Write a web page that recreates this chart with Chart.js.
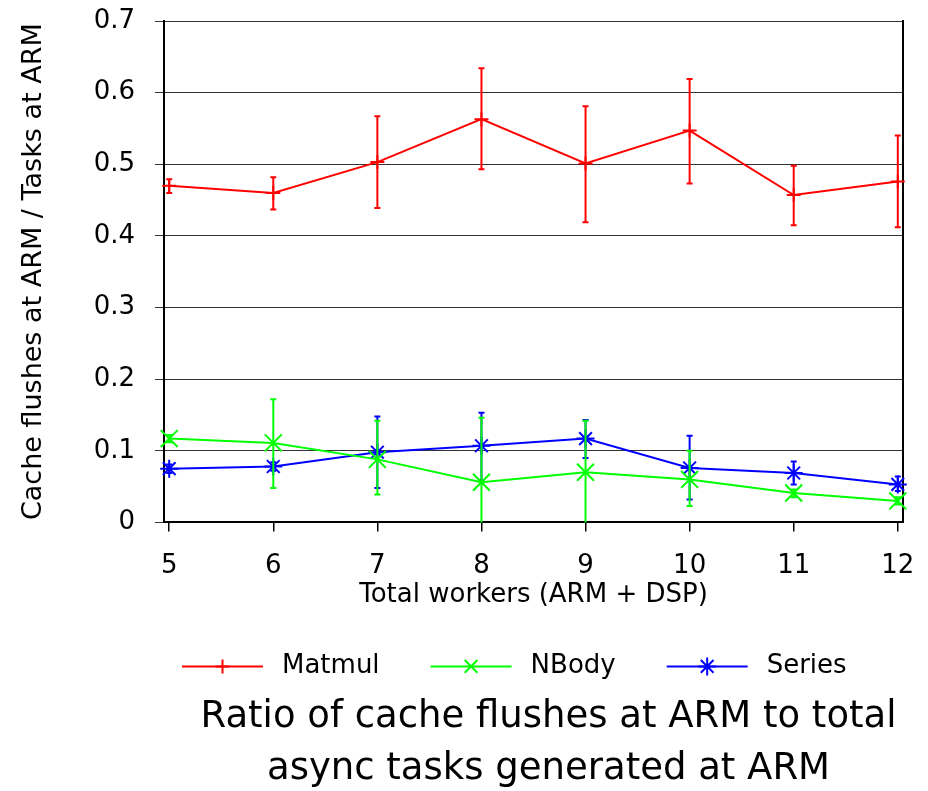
<!DOCTYPE html>
<html>
<head>
<meta charset="utf-8">
<script src="https://cdn.jsdelivr.net/npm/chart.js@4.4.1/dist/chart.umd.min.js"></script>
<style>
  html, body { margin: 0; padding: 0; background: #ffffff; }
  #wrap { width: 928px; height: 791px; }
</style>
</head>
<body>
<div id="wrap"><canvas id="chart" width="928" height="791"></canvas></div>
<script>
// ---- data ----
const workers = [5, 6, 7, 8, 9, 10, 11, 12];
const yTickValues = [0, 0.1, 0.2, 0.3, 0.4, 0.5, 0.6, 0.7];
const seriesNames = ['Matmul', 'NBody', 'Series'];

const matmulMean = [0.470, 0.460, 0.503, 0.563, 0.501, 0.547, 0.457, 0.476];
const matmulLow  = [0.460, 0.437, 0.439, 0.493, 0.419, 0.473, 0.415, 0.412];
const matmulHigh = [0.479, 0.482, 0.567, 0.634, 0.581, 0.619, 0.498, 0.540];

const nbodyMean = [0.117, 0.111, 0.088, 0.056, 0.070, 0.060, 0.041, 0.030];
const nbodyLow  = [0.112, 0.048, 0.039, -0.034, -0.005, 0.023, 0.035, 0.025];
const nbodyHigh = [0.122, 0.172, 0.142, 0.146, 0.142, 0.100, 0.046, 0.035];

const seriesMean = [0.075, 0.078, 0.098, 0.107, 0.117, 0.076, 0.069, 0.053];
const seriesLow  = [0.069, 0.072, 0.048, 0.059, 0.090, 0.032, 0.053, 0.044];
const seriesHigh = [0.081, 0.084, 0.148, 0.153, 0.143, 0.121, 0.085, 0.064];

const yTitle = 'Cache flushes at ARM / Tasks at ARM';
const xTitle = 'Total workers (ARM + DSP)';
const caption = ['Ratio of cache flushes at ARM to total', 'async tasks generated at ARM'];

// ---- styles ----
const FONT = "'DejaVu Sans', 'Liberation Sans', Arial, sans-serif";
const colors = ['#ff0000', '#00ff00', '#0000ff'];
const styles = ['cross', 'crossRot', 'star'];
const radii = [7, 12, 9];
const errs = [[matmulLow, matmulHigh], [nbodyLow, nbodyHigh], [seriesLow, seriesHigh]];
const means = [matmulMean, nbodyMean, seriesMean];

const datasets = seriesNames.map((name, i) => ({
  label: name,
  data: workers.map((w, j) => ({ x: w, y: means[i][j] })),
  borderColor: colors[i],
  backgroundColor: colors[i],
  borderWidth: 2,
  pointStyle: styles[i],
  pointRadius: radii[i],
  pointBorderWidth: 2,
  pointBorderColor: colors[i],
  pointBackgroundColor: colors[i],
  tension: 0,
  clip: false
}));

function drawMarker(ctx, style, r, x, y) {
  if (Chart.helpers && Chart.helpers.drawPoint) {
    Chart.helpers.drawPoint(ctx, { pointStyle: style, radius: r, borderWidth: 2, rotation: 0 }, x, y);
    return;
  }
  ctx.beginPath();
  const d = r * Math.SQRT1_2;
  if (style === 'cross' || style === 'star') {
    ctx.moveTo(x - r, y); ctx.lineTo(x + r, y); ctx.moveTo(x, y - r); ctx.lineTo(x, y + r);
  }
  if (style === 'crossRot' || style === 'star') {
    ctx.moveTo(x - d, y - d); ctx.lineTo(x + d, y + d); ctx.moveTo(x - d, y + d); ctx.lineTo(x + d, y - d);
  }
  ctx.stroke();
}

// error bars drawn after each dataset, through the scales
const errorBars = {
  id: 'errorBars',
  afterDatasetDraw(chart, args) {
    const i = args.index;
    const { ctx, chartArea, scales } = chart;
    const xs = scales.x, ys = scales.y;
    const [lo, hi] = errs[i];
    ctx.save();
    ctx.beginPath();
    ctx.rect(chartArea.left, chartArea.top - 1, chartArea.right - chartArea.left, chartArea.bottom - chartArea.top + 1);
    ctx.clip();
    ctx.strokeStyle = colors[i];
    ctx.lineWidth = 2;
    workers.forEach((w, j) => {
      const px = xs.getPixelForValue(w);
      const pl = ys.getPixelForValue(lo[j]);
      const ph = ys.getPixelForValue(hi[j]);
      ctx.beginPath();
      ctx.moveTo(px, pl); ctx.lineTo(px, ph);
      ctx.moveTo(px - 3, pl); ctx.lineTo(px + 3, pl);
      ctx.moveTo(px - 3, ph); ctx.lineTo(px + 3, ph);
      ctx.stroke();
    });
    ctx.restore();
  }
};

// legend sample: line + marker; legend and caption offsets
const LEGEND_LINE = 81;
const LEGEND_START_OFFSET = 18;   // legend starts this far right of the plot's left edge
const CAPTION_OFFSET = 15;        // caption centre shift relative to plot centre
const legendSamples = {
  id: 'legendSamples',
  afterLayout(chart) {
    const ca = chart.chartArea;
    const lg = chart.legend;
    if (lg && lg.lineWidths) {
      const pad = lg.options.labels.padding;
      const cur = (lg.left + pad + lg.right - lg.lineWidths[0]) / 2;
      const d = (ca.left + LEGEND_START_OFFSET) - cur;
      lg.left += d; lg.right += d;
    }
    const tb = chart.titleBlock;
    if (tb) { tb.left = ca.left + CAPTION_OFFSET; tb.right = ca.right + CAPTION_OFFSET; tb.width = tb.right - tb.left; }
  },
  afterDraw(chart) {
    const lg = chart.legend;
    if (!lg || !lg.legendHitBoxes) return;
    const ctx = chart.ctx;
    lg.legendHitBoxes.forEach((hb, i) => {
      const y = hb.top + hb.height / 2;
      const x0 = hb.left, x1 = hb.left + LEGEND_LINE;
      ctx.save();
      ctx.strokeStyle = colors[i];
      ctx.fillStyle = colors[i];
      ctx.lineWidth = 2;
      ctx.beginPath(); ctx.moveTo(x0, y); ctx.lineTo(x1, y); ctx.stroke();
      drawMarker(ctx, styles[i], Math.min(radii[i], 9), (x0 + x1) / 2, y);
      ctx.restore();
    });
  }
};

new Chart(document.getElementById('chart'), {
  type: 'line',
  data: { datasets },
  plugins: [errorBars, legendSamples],
  options: {
    responsive: false,
    animation: false,
    devicePixelRatio: 1,
    layout: { padding: { top: 21, right: 25, bottom: -4, left: 0 } },
    plugins: {
      tooltip: { enabled: false },
      legend: {
        position: 'bottom',
        fullSize: true,
        align: 'center',
        labels: {
          boxWidth: 87,
          boxHeight: 2,
          padding: 51,
          color: '#000000',
          font: { family: FONT, size: 26 },
          generateLabels: (chart) => seriesNames.map((n, i) => ({
            text: n,
            fillStyle: 'rgba(0,0,0,0)',
            strokeStyle: 'rgba(0,0,0,0)',
            lineWidth: 0,
            hidden: false,
            datasetIndex: i
          }))
        }
      },
      title: {
        display: true,
        position: 'bottom',
        fullSize: true,
        text: caption,
        color: '#000000',
        font: { family: FONT, size: 37, weight: 'normal', lineHeight: 1.4 },
        padding: { top: 2, bottom: 0 }
      }
    },
    scales: {
      x: {
        type: 'linear',
        min: 4.95,
        max: 12.05,
        afterBuildTicks: (s) => { s.ticks = workers.map(v => ({ value: v })); },
        afterFit: (s) => { s.height = 80; s.paddingLeft = 0; s.paddingRight = 0; },
        ticks: {
          color: '#000000',
          font: { family: FONT, size: 26 },
          padding: 19,
          maxRotation: 0,
          autoSkip: false,
          callback: (v) => String(v)
        },
        grid: { display: true, drawOnChartArea: false, drawTicks: true, tickLength: 9, color: '#000000', lineWidth: 1.5 },
        border: { display: true, color: '#000000', width: 2 },
        title: {
          display: true,
          text: xTitle,
          color: '#000000',
          font: { family: FONT, size: 26, lineHeight: 1.2 },
          padding: { top: 0, bottom: -8 }
        }
      },
      y: {
        type: 'linear',
        min: 0,
        max: 0.7,
        afterBuildTicks: (s) => { s.ticks = yTickValues.map(v => ({ value: v })); },
        afterFit: (s) => { s.width = 164; s.paddingTop = 16; s.paddingBottom = 16; },
        ticks: {
          color: '#000000',
          font: { family: FONT, size: 26 },
          padding: 20,
          callback: (v) => (v === 0 ? '0' : Number(v).toFixed(1))
        },
        grid: { display: true, drawOnChartArea: true, drawTicks: true, tickLength: 9, color: '#333333', lineWidth: 1 },
        border: { display: true, color: '#000000', width: 2 },
        title: {
          display: true,
          text: yTitle,
          color: '#000000',
          font: { family: FONT, size: 27, lineHeight: 1.2 },
          padding: { top: 18, bottom: 0 }
        }
      },
      y2: {
        type: 'linear',
        position: 'right',
        min: 0,
        max: 0.7,
        afterFit: (s) => { s.width = 0; s.paddingTop = 0; s.paddingBottom = 0; },
        ticks: { display: false },
        grid: { display: true, drawOnChartArea: false, drawTicks: false },
        border: { display: true, color: '#000000', width: 2 }
      }
    }
  }
});
</script>
</body>
</html>
